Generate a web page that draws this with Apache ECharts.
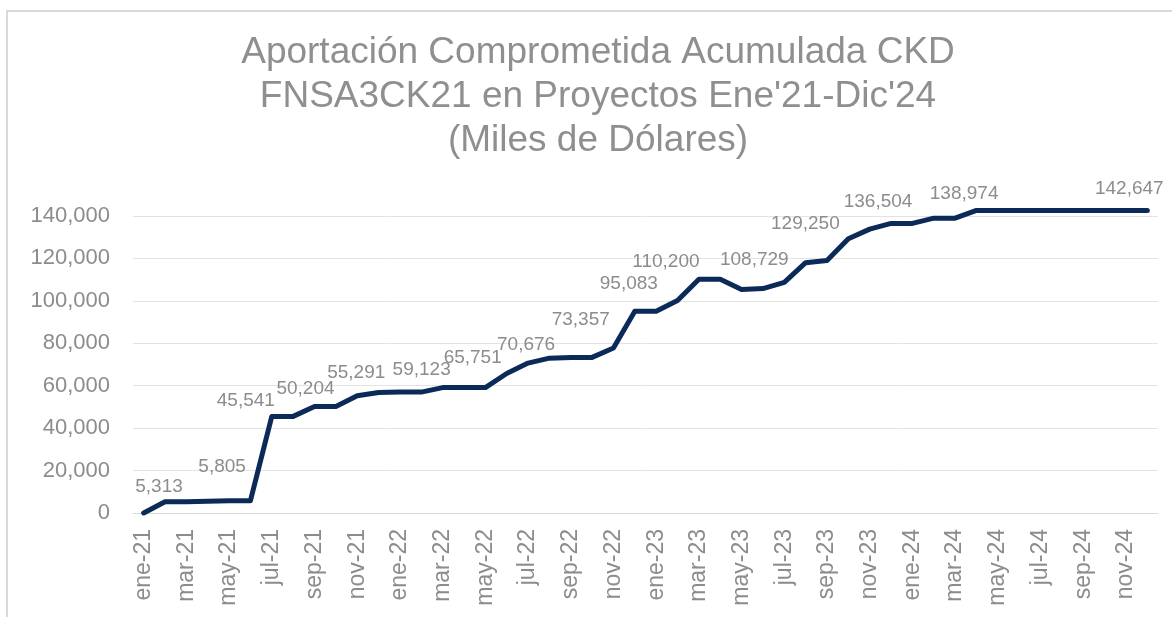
<!DOCTYPE html>
<html lang="es">
<head>
    <meta charset="UTF-8">
    <script src="https://cdn.jsdelivr.net/npm/echarts@6/dist/echarts.min.js"></script>
    <title>Aportación Comprometida Acumulada CKD</title>
    <style>
        html, body { margin: 0; padding: 0; background: #fff; }
    </style>
</head>
<body>
<div id="main" style="width: 1172px;height:617px;"></div>
<script type="text/javascript">
    // meses ene-21 .. dic-24
    var months = [
        'ene-21', 'feb-21', 'mar-21', 'abr-21', 'may-21', 'jun-21', 'jul-21', 'ago-21', 'sep-21', 'oct-21', 'nov-21', 'dic-21',
        'ene-22', 'feb-22', 'mar-22', 'abr-22', 'may-22', 'jun-22', 'jul-22', 'ago-22', 'sep-22', 'oct-22', 'nov-22', 'dic-22',
        'ene-23', 'feb-23', 'mar-23', 'abr-23', 'may-23', 'jun-23', 'jul-23', 'ago-23', 'sep-23', 'oct-23', 'nov-23', 'dic-23',
        'ene-24', 'feb-24', 'mar-24', 'abr-24', 'may-24', 'jun-24', 'jul-24', 'ago-24', 'sep-24', 'oct-24', 'nov-24', 'dic-24'
    ];

    // aportación acumulada (miles de USD)
    var acumulado = [
        0, 5313, 5313, 5500, 5805, 5805, 45541, 45541, 50204, 50204, 55291, 56800,
        57000, 57000, 59123, 59123, 59123, 65751, 70676, 73000, 73357, 73357, 77800, 95083,
        95083, 100200, 110200, 110200, 105400, 105800, 108729, 118000, 119000, 129250, 133800, 136504,
        136504, 138974, 138974, 142647, 142647, 142647, 142647, 142647, 142647, 142647, 142647, 142647
    ];

    // puntos con etiqueta de dato
    var labeledIdx = [1, 4, 6, 8, 10, 14, 17, 18, 20, 23, 26, 30, 33, 35, 38, 47];

    var yTicks = [0, 20000, 40000, 60000, 80000, 100000, 120000, 140000];

    // desplazamiento [dx, dy] de cada etiqueta (para imitar su colocación)
    var labelOffset = {
        1: [-6, 1], 4: [-7, -18], 6: [-26, 0], 8: [-9, -2], 10: [-1, -7],
        14: [-21, -2], 17: [-34, 0], 18: [-2, -3], 20: [10, -22], 23: [-6, -12],
        26: [-33, -2], 30: [-30, -7], 33: [-43, 0], 35: [-13, -6], 38: [9, -9], 47: [-18, -6]
    };

    var fmt = function (v) {
        return Number(v).toLocaleString('en-US');
    };

    var seriesData = acumulado.map(function (v, i) {
        if (labeledIdx.indexOf(i) < 0) return v;
        return {
            value: v,
            label: { show: true, offset: labelOffset[i] || [0, 0] }
        };
    });

    var myChart = echarts.init(document.getElementById('main'));

    var option = {
        backgroundColor: '#ffffff',
        animation: false,
        title: {
            text: "Aportación Comprometida Acumulada CKD\nFNSA3CK21 en Proyectos Ene'21-Dic'24\n(Miles de Dólares)",
            left: 598,
            textAlign: 'center',
            top: 31,
            padding: 0,
            textStyle: {
                color: '#8f8f8f',
                fontFamily: 'Liberation Sans',
                fontWeight: 'normal',
                fontSize: 37,
                lineHeight: 44
            }
        },
        graphic: [{
            type: 'rect',
            shape: { x: 7, y: 11, width: 1180, height: 620 },
            style: { fill: 'none', stroke: '#d9d9d9', lineWidth: 2 },
            silent: true
        }],
        grid: {
            left: 133,
            right: 14,
            top: 216,
            bottom: 104
        },
        xAxis: {
            type: 'category',
            data: months,
            boundaryGap: true,
            axisLine: { lineStyle: { color: '#d9d9d9', width: 1 } },
            axisTick: { show: false },
            axisLabel: {
                interval: 1,
                rotate: 90,
                margin: 16,
                color: '#8c8c8c',
                fontFamily: 'Liberation Sans',
                fontSize: 23
            }
        },
        yAxis: {
            type: 'value',
            min: yTicks[0],
            max: yTicks[yTicks.length - 1],
            interval: 20000,
            axisLine: { show: false },
            axisTick: { show: false },
            splitLine: { lineStyle: { color: '#e3e3e3', width: 1 } },
            axisLabel: {
                margin: 23,
                color: '#8c8c8c',
                fontFamily: 'Liberation Sans',
                fontSize: 22,
                formatter: fmt
            }
        },
        series: [{
            name: 'Aportación acumulada',
            type: 'line',
            data: seriesData,
            symbol: 'circle',
            symbolSize: 2,
            showSymbol: true,
            clip: false,
            lineStyle: {
                color: '#0c2a58',
                width: 5,
                cap: 'round',
                join: 'round'
            },
            itemStyle: { color: '#0c2a58' },
            label: {
                show: false,
                position: 'top',
                color: '#8c8c8c',
                fontFamily: 'Liberation Sans',
                fontSize: 19,
                formatter: function (p) { return fmt(p.value); }
            }
        }]
    };

    myChart.setOption(option);
</script>
</body>
</html>
